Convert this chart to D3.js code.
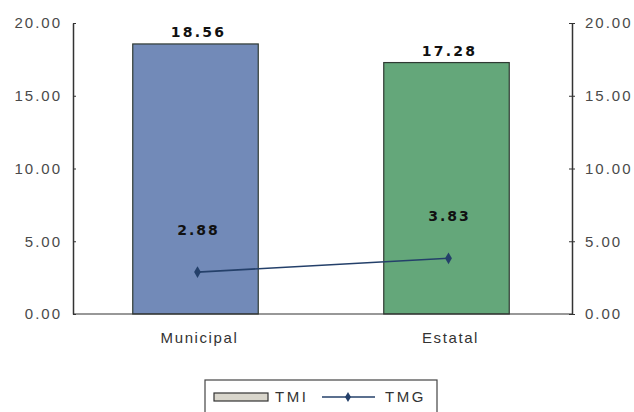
<!DOCTYPE html>
<html><head><meta charset="utf-8">
<script src="https://cdn.jsdelivr.net/npm/d3@7"></script>
<style>
html,body{margin:0;padding:0;background:#fff;}
svg{display:block;}
</style></head>
<body>
<svg id="chart" width="634" height="412"></svg>
<script>
const categories = ["Municipal", "Estatal"];
const tmiValues = [18.56, 17.28];
const tmgValues = [2.88, 3.83];
const tickValues = [0, 5, 10, 15, 20];
const barColors = ["#728ab8", "#64a77a"];
const legendLabels = ["TMI", "TMG"];

const svg = d3.select("#chart");
const margin = {left: 73, right: 62, top: 23, bottom: 98};
const W = 634, H = 412;
const x = d3.scaleBand().domain(categories).range([margin.left - 3, W - margin.right]).paddingInner(0.5).paddingOuter(0.25);
const y = d3.scaleLinear().domain([0, 20]).range([H - margin.bottom, margin.top]);
const font = "Arial, 'Liberation Sans', sans-serif";
const boldFont = "'DejaVu Sans', Verdana, sans-serif";
const cx = d => x(d) + x.bandwidth() / 2;

// bars
svg.selectAll("rect.bar").data(categories).join("rect")
  .attr("class", "bar")
  .attr("x", d => x(d))
  .attr("width", x.bandwidth())
  .attr("y", (d, i) => y(tmiValues[i]))
  .attr("height", (d, i) => y(0) - y(tmiValues[i]))
  .attr("fill", (d, i) => barColors[i])
  .attr("stroke", "#2f3a33").attr("stroke-width", 1.2);

// bar labels
svg.selectAll("text.barlab").data(categories).join("text")
  .attr("x", d => cx(d) + 3)
  .attr("y", (d, i) => y(tmiValues[i]) - 7)
  .attr("text-anchor", "middle")
  .attr("font-family", boldFont).attr("font-weight", "bold").attr("font-size", 14)
  .attr("letter-spacing", 2.2)
  .attr("fill", "#111")
  .text((d, i) => tmiValues[i].toFixed(2));

// left axis
const leftAxis = d3.axisLeft(y).tickValues(tickValues).tickFormat(d3.format(".2f")).tickSize(3).tickSizeOuter(0);
const gl = svg.append("g").attr("transform", `translate(${margin.left},0)`).call(leftAxis);
gl.selectAll(".tick line").attr("x2", 3).attr("stroke", "#333");
gl.select(".domain").attr("stroke", "#333").attr("stroke-width", 1.5);
gl.selectAll("text").attr("font-family", font).attr("font-size", 15).attr("letter-spacing", 2)
  .attr("fill", "#4a4a4a").attr("x", -11);

// right axis
const rightAxis = d3.axisRight(y).tickValues(tickValues).tickFormat(d3.format(".2f")).tickSize(3).tickSizeOuter(0);
const gr = svg.append("g").attr("transform", `translate(${W - margin.right},0)`).call(rightAxis);
gr.selectAll(".tick line").attr("x1", -3).attr("stroke", "#333");
gr.select(".domain").attr("stroke", "#333").attr("stroke-width", 1.5);
gr.selectAll("text").attr("font-family", font).attr("font-size", 15).attr("letter-spacing", 2)
  .attr("fill", "#4a4a4a").attr("x", 13);

// baseline
svg.append("line").attr("x1", margin.left).attr("x2", W - margin.right)
  .attr("y1", y(0)).attr("y2", y(0)).attr("stroke", "#333").attr("stroke-width", 1.2);

// category labels
svg.selectAll("text.cat").data(categories).join("text")
  .attr("x", d => cx(d) + 4)
  .attr("y", y(0) + 29)
  .attr("text-anchor", "middle")
  .attr("font-family", font).attr("font-size", 15).attr("letter-spacing", 1.6).attr("fill", "#333")
  .text(d => d);

// line series
const line = d3.line().x((d, i) => cx(categories[i]) + 2).y(d => y(d));
svg.append("path").datum(tmgValues).attr("d", line)
  .attr("fill", "none").attr("stroke", "#24406a").attr("stroke-width", 1.6);
svg.selectAll("path.mk").data(tmgValues).join("path")
  .attr("transform", (d, i) => `translate(${cx(categories[i]) + 2},${y(d)})`)
  .attr("d", d3.symbol(d3.symbolDiamond, 40))
  .attr("fill", "#24406a");
svg.selectAll("text.tmglab").data(tmgValues).join("text")
  .attr("x", (d, i) => cx(categories[i]) + 3)
  .attr("y", d => y(d) - 37)
  .attr("text-anchor", "middle")
  .attr("font-family", boldFont).attr("font-weight", "bold").attr("font-size", 14)
  .attr("letter-spacing", 2)
  .attr("fill", "#111")
  .text(d => d.toFixed(2));

// legend
const lg = svg.append("g");
lg.append("rect").attr("x", 205).attr("y", 380).attr("width", 232).attr("height", 40)
  .attr("fill", "#fff").attr("stroke", "#444").attr("stroke-width", 1.2);
lg.append("rect").attr("x", 214).attr("y", 393).attr("width", 54).attr("height", 8)
  .attr("fill", "#d9d6cc").attr("stroke", "#333").attr("stroke-width", 1.2);
lg.append("text").attr("x", 275).attr("y", 402).attr("font-family", font).attr("font-size", 15)
  .attr("letter-spacing", 2.5).attr("fill", "#333").text(legendLabels[0]);
lg.append("line").attr("x1", 322).attr("x2", 375).attr("y1", 397).attr("y2", 397).attr("stroke", "#24406a").attr("stroke-width", 1.5);
lg.append("path").attr("transform", "translate(348,397)").attr("d", d3.symbol(d3.symbolDiamond, 30)).attr("fill", "#24406a");
lg.append("text").attr("x", 385).attr("y", 402).attr("font-family", font).attr("font-size", 15)
  .attr("letter-spacing", 2.5).attr("fill", "#333").text(legendLabels[1]);
</script>
</body></html>
